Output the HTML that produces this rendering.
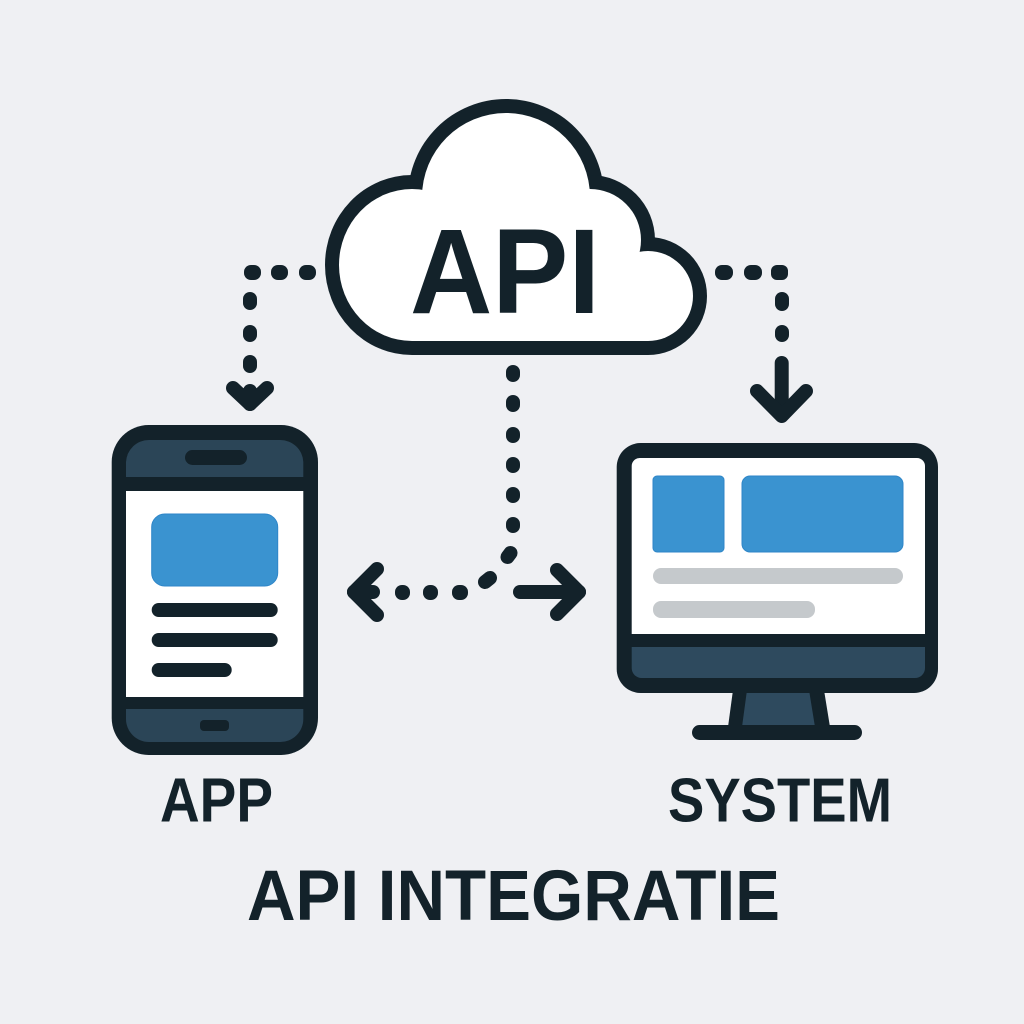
<!DOCTYPE html>
<html>
<head>
<meta charset="utf-8">
<style>
  html, body { margin: 0; padding: 0; background: #eff0f3; }
  body { width: 1024px; height: 1024px; overflow: hidden; }
  svg { display: block; }
  text { font-family: "Liberation Sans", "DejaVu Sans", sans-serif; font-weight: bold; fill: #13222a; }
</style>
</head>
<body>
<svg width="1024" height="1024" viewBox="0 0 1024 1024" xmlns="http://www.w3.org/2000/svg">
  <rect x="0" y="0" width="1024" height="1024" fill="#eff0f3"/>

  <!-- ===== Cloud ===== -->
  <g fill="#13222a">
    <circle cx="506" cy="197" r="98"/>
    <ellipse cx="412" cy="265" rx="87" ry="90"/>
    <circle cx="590" cy="240" r="65"/>
    <circle cx="648" cy="296" r="59"/>
    <rect x="412" y="250" width="236" height="105"/>
  </g>
  <g fill="#ffffff">
    <circle cx="506" cy="197" r="84"/>
    <ellipse cx="412" cy="265" rx="73" ry="76"/>
    <circle cx="590" cy="240" r="51"/>
    <circle cx="648" cy="296" r="45"/>
    <rect x="412" y="264" width="236" height="77"/>
  </g>
  <text x="410" y="313" font-size="121" textLength="190" lengthAdjust="spacingAndGlyphs">API</text>

  <!-- ===== Connectors ===== -->
  <g fill="#13222a">
    <!-- left top dots -->
    <rect x="244" y="265" width="17" height="15" rx="7"/>
    <rect x="271" y="265" width="17" height="15" rx="7"/>
    <rect x="299" y="265" width="17" height="15" rx="7"/>
    <rect x="243" y="292" width="14" height="18" rx="7"/>
    <rect x="243" y="325" width="14" height="17" rx="7"/>
    <rect x="243" y="355" width="14" height="18" rx="7"/>
    <!-- right top dots -->
    <rect x="715" y="265" width="18" height="15" rx="7"/>
    <rect x="744" y="265" width="18" height="15" rx="7"/>
    <rect x="771" y="265" width="17" height="15" rx="6"/>
    <rect x="775" y="292" width="14" height="19" rx="7"/>
    <rect x="775" y="325" width="14" height="17" rx="7"/>
    <!-- middle vertical dots -->
    <rect x="506" y="365" width="14" height="17" rx="7"/>
    <rect x="506" y="395" width="14" height="17" rx="7"/>
    <rect x="506" y="427" width="14" height="16" rx="7"/>
    <rect x="506" y="457" width="14" height="16" rx="7"/>
    <rect x="506" y="487" width="14" height="16" rx="7"/>
    <rect x="506" y="517" width="14" height="16" rx="7"/>
    <!-- horizontal dots -->
    <rect x="395" y="585" width="15" height="15" rx="7"/>
    <rect x="423" y="585" width="15" height="15" rx="7"/>
    <rect x="452" y="585" width="16" height="15" rx="7"/>
  </g>
  <g stroke="#13222a" stroke-width="14" stroke-linecap="round" stroke-linejoin="round" fill="none">
    <!-- slanted dashes -->
    <line x1="510.5" y1="553" x2="507.5" y2="557"/>
    <line x1="490" y1="578" x2="485" y2="582"/>
    <!-- left top chevron -->
    <polyline points="233,388 250,404 267,388"/>
    <line x1="250" y1="391" x2="250" y2="404"/>
    <!-- right top arrow -->
    <line x1="781.7" y1="363" x2="781.7" y2="415"/>
    <polyline points="757,391 781.7,416 806,391"/>
    <!-- left middle arrow -->
    <polyline points="377,569 354,592 377,615"/>
    <line x1="354" y1="592" x2="373" y2="592"/>
    <!-- right middle arrow -->
    <line x1="520" y1="592" x2="579" y2="592"/>
    <polyline points="557,570 579,592 557,614"/>
  </g>

  <!-- ===== Phone ===== -->
  <rect x="111.7" y="425" width="206.3" height="330" rx="37" fill="#13222a"/>
  <path d="M126,477 V462 A23,23 0 0 1 149,440 H280 A23,23 0 0 1 303.3,462 V477 Z" fill="#2b4557"/>
  <path d="M126,709 H303.3 V719 A23,23 0 0 1 280,742 H149 A23,23 0 0 1 126,719 Z" fill="#2b4557"/>
  <rect x="126" y="491" width="177.3" height="206" fill="#ffffff"/>
  <rect x="185" y="450" width="62" height="15" rx="7.5" fill="#13222a"/>
  <rect x="200" y="720" width="29" height="11" rx="4" fill="#13222a"/>
  <rect x="151.7" y="514" width="126" height="72" rx="13" fill="#3a93d0" stroke="#2f86c8" stroke-width="1"/>
  <rect x="151.7" y="603" width="126" height="14" rx="7" fill="#13222a"/>
  <rect x="151.7" y="633" width="126" height="14" rx="7" fill="#13222a"/>
  <rect x="151.7" y="663" width="80" height="14" rx="7" fill="#13222a"/>

  <!-- ===== Monitor ===== -->
  <polygon points="733,690 824,690 830,727 728,727" fill="#13222a"/>
  <polygon points="747,690 809,690 815,727 742,727" fill="#2e4a5e"/>
  <rect x="692" y="725" width="170" height="15" rx="7.5" fill="#13222a"/>
  <rect x="616.7" y="443" width="321.3" height="250" rx="24" fill="#13222a"/>
  <path d="M631.7,634 V466 A8,8 0 0 1 639.7,458 H917 A8,8 0 0 1 925,466 V634 Z" fill="#ffffff"/>
  <path d="M631.7,647 H925 V668 A10,10 0 0 1 915,678 H641.7 A10,10 0 0 1 631.7,668 Z" fill="#2e4a5e"/>
  <rect x="653" y="476" width="71" height="76" rx="4" fill="#3a93d0" stroke="#2f86c8" stroke-width="1"/>
  <rect x="742" y="476" width="161" height="76" rx="8" fill="#3a93d0" stroke="#2f86c8" stroke-width="1"/>
  <rect x="653" y="568" width="250" height="16" rx="8" fill="#c5c9cc"/>
  <rect x="653" y="601" width="162" height="17" rx="8" fill="#c5c9cc"/>

  <!-- ===== Labels ===== -->
  <text x="160" y="821.5" font-size="62" textLength="113" lengthAdjust="spacingAndGlyphs">APP</text>
  <text x="668" y="821.5" font-size="62" textLength="224" lengthAdjust="spacingAndGlyphs">SYSTEM</text>
  <text x="247" y="920" font-size="71" textLength="533" lengthAdjust="spacingAndGlyphs">API INTEGRATIE</text>
</svg>
</body>
</html>
